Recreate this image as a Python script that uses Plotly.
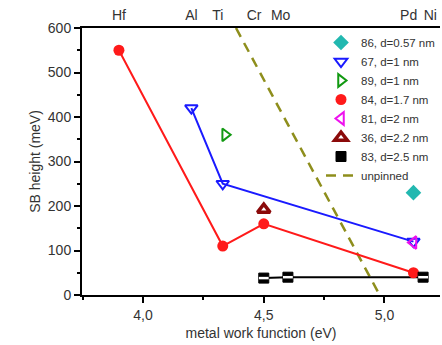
import plotly.graph_objects as go

# Schottky barrier height vs. metal work function
wf_84 = [3.9, 4.33, 4.5, 5.12]
sb_84 = [550, 110, 160, 50]

wf_67 = [4.2, 4.33, 5.12]
sb_67 = [420, 250, 120]

wf_89 = [4.34]
sb_89 = [360]

wf_86 = [5.12]
sb_86 = [230]

wf_81 = [5.12]
sb_81 = [118]

wf_36 = [4.5]
sb_36 = [192]

wf_83 = [4.5, 4.6, 5.16]
sb_83 = [38, 40, 40]

wf_unpinned = [4.385, 4.98]
sb_unpinned = [600, 0]

metal_labels = ["Hf", "Al", "Ti", "Cr", "Mo", "Pd", "Ni"]
metal_wf = [3.9, 4.2, 4.31, 4.46, 4.57, 5.1, 5.19]

x_ticks = [4.0, 4.5, 5.0]
x_ticktext = ["4,0", "4,5", "5,0"]

FONT = "Liberation Sans, Arial, sans-serif"
TXT = "#333333"

fig = go.Figure()

# unpinned (Schottky-Mott) line
fig.add_trace(go.Scatter(
    x=wf_unpinned, y=sb_unpinned, mode="lines", name="unpinned",
    line=dict(color="#8e8e1c", width=2.5, dash="10px,7px"),
    legendrank=8))

# connecting lines (not in legend)
fig.add_trace(go.Scatter(x=wf_67, y=sb_67, mode="lines", showlegend=False,
                         line=dict(color="#1a1aff", width=2)))
fig.add_trace(go.Scatter(x=wf_84, y=sb_84, mode="lines", showlegend=False,
                         line=dict(color="#ff1a1a", width=2)))
fig.add_trace(go.Scatter(x=wf_83, y=sb_83, mode="lines", showlegend=False,
                         line=dict(color="black", width=2)))

# markers
fig.add_trace(go.Scatter(
    x=wf_67, y=sb_67, mode="markers", name="67, d=1 nm", legendrank=2,
    marker=dict(symbol="triangle-down-open", size=11, color="#1a1aff",
                line=dict(width=2))))
fig.add_trace(go.Scatter(
    x=wf_89, y=sb_89, mode="markers", name="89, d=1 nm", legendrank=3,
    marker=dict(symbol="triangle-right-open", size=11, color="#119911",
                line=dict(width=2))))
fig.add_trace(go.Scatter(
    x=wf_84, y=sb_84, mode="markers", name="84, d=1.7 nm", legendrank=4,
    marker=dict(symbol="circle", size=11, color="#ff1a1a")))
fig.add_trace(go.Scatter(
    x=wf_81, y=sb_81, mode="markers", name="81, d=2 nm", legendrank=5,
    marker=dict(symbol="triangle-left-open", size=11, color="#ee11ee",
                line=dict(width=2))))
fig.add_trace(go.Scatter(
    x=wf_36, y=sb_36, mode="markers", name="36, d=2.2 nm", legendrank=6,
    marker=dict(symbol="triangle-up-open", size=11, color="#8b0a0a",
                line=dict(width=3.5))))
fig.add_trace(go.Scatter(
    x=wf_83, y=sb_83, mode="markers", name="83, d=2.5 nm", legendrank=7,
    marker=dict(symbol="square", size=10, color="black",
                line=dict(color="black", width=1))))
# white band inside the square markers
fig.add_trace(go.Scatter(
    x=wf_83, y=sb_83, mode="markers", showlegend=False, hoverinfo="skip",
    marker=dict(symbol="line-ew", size=7, color="white",
                line=dict(color="white", width=2.5))))
fig.add_trace(go.Scatter(
    x=wf_86, y=sb_86, mode="markers", name="86, d=0.57 nm", legendrank=1,
    marker=dict(symbol="diamond", size=12, color="#22b8b0")))

# top axis with metal names
fig.add_trace(go.Scatter(x=metal_wf, y=[None] * len(metal_wf), xaxis="x2",
                         showlegend=False, hoverinfo="skip"))

xrange = [3.747, 5.23]

fig.update_layout(
    width=442, height=345,
    margin=dict(l=82, r=2, t=28, b=50),
    plot_bgcolor="white", paper_bgcolor="white",
    font=dict(family=FONT, size=14, color=TXT),
    xaxis=dict(
        range=xrange, tickvals=x_ticks, ticktext=x_ticktext,
        showgrid=False, zeroline=False, showline=True, linecolor="black",
        linewidth=2, ticks="outside", ticklen=6, tickwidth=2, tickcolor="black",
        minor=dict(dtick=0.25, tick0=4.0, ticks="outside", ticklen=3,
                   tickwidth=1.5, tickcolor="black"),
        title=dict(text="metal work function (eV)", standoff=6,
                   font=dict(size=14, color=TXT)),
        tickfont=dict(size=14, color=TXT)),
    xaxis2=dict(
        range=xrange, overlaying="x", side="top", tickvals=metal_wf,
        ticktext=metal_labels, showgrid=False, zeroline=False, showline=True,
        linecolor="black", linewidth=2, ticks="", ticklen=0,
        tickfont=dict(size=14, color=TXT)),
    yaxis=dict(
        range=[0, 600], dtick=100, showgrid=False, zeroline=False,
        showline=True, linecolor="black", linewidth=2, ticks="outside",
        ticklen=6, tickwidth=2, tickcolor="black",
        minor=dict(dtick=50, ticks="outside", ticklen=3, tickwidth=1.5,
                   tickcolor="black"),
        title=dict(text="SB height (meV)", standoff=4,
                   font=dict(size=14, color=TXT)),
        tickfont=dict(size=14, color=TXT)),
    legend=dict(
        x=1.0, y=1.0, xanchor="right", yanchor="top",
        bgcolor="rgba(0,0,0,0)", font=dict(size=11.5, color=TXT),
        tracegroupgap=0, itemwidth=30, traceorder="normal"),
    showlegend=True,
)

fig.write_html("out.html")
